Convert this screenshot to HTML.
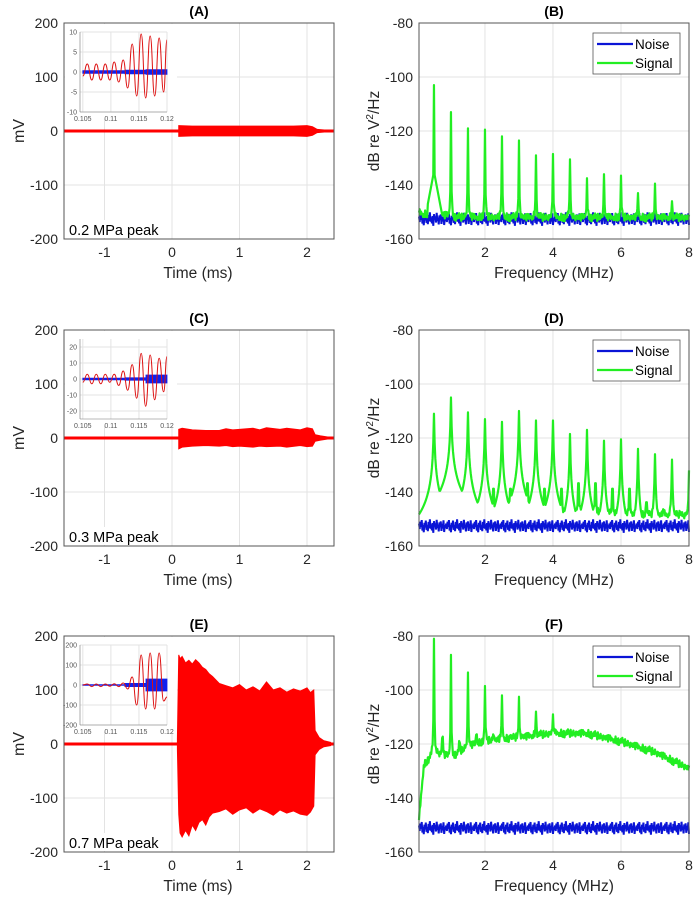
<!DOCTYPE html>
<html><head><meta charset="utf-8"><style>
html,body{margin:0;padding:0;background:#fff;}
svg{display:block;font-family:"Liberation Sans",Arial,sans-serif;}
</style></head><body>
<svg id="fig" width="700" height="905" viewBox="0 0 700 905" xmlns="http://www.w3.org/2000/svg"></svg>
<script>
// ---------- DATA ----------
var timeTicks = [-1, 0, 1, 2];
var mvTicks = [200, 100, 0, -100, -200];
var freqTicks = [2, 4, 6, 8];
var dbTicks = [-80, -100, -120, -140, -160];
var titles = ["(A)", "(B)", "(C)", "(D)", "(E)", "(F)"];
var pressureLabels = ["0.2 MPa peak", "0.3 MPa peak", "0.7 MPa peak"];

var envTA = [0.1, 0.3, 0.6, 0.9, 1.2, 1.5, 1.8, 2.0, 2.08, 2.15, 2.25];
var envUA = [10, 9, 9, 9, 9, 9, 9, 10, 8, 3, 2];
var envLA = [-10, -9, -9, -9, -9, -9, -9, -10, -8, -3, -2];

var envTC = [0.1, 0.15, 0.3, 0.5, 0.7, 0.8, 0.9, 1.0, 1.2, 1.3, 1.4, 1.6, 1.7, 1.9, 2.0, 2.08, 2.12, 2.2, 2.3];
var envUC = [16, 18, 15, 14, 14, 17, 15, 16, 18, 15, 19, 16, 18, 15, 19, 17, 6, 4, 2];
var envLC = [-20, -17, -15, -14, -15, -14, -16, -15, -17, -15, -16, -15, -17, -14, -16, -15, -6, -4, -2];

var envTE = [0.08, 0.1, 0.12, 0.15, 0.2, 0.25, 0.3, 0.35, 0.4, 0.45, 0.5, 0.55, 0.6, 0.7, 0.8, 0.9, 1.0, 1.1, 1.2, 1.3, 1.4, 1.5, 1.6, 1.7, 1.8, 1.9, 2.0, 2.05, 2.1, 2.12, 2.18, 2.25, 2.35];
var envUE = [10, 165, 158, 162, 150, 155, 148, 156, 150, 142, 138, 130, 125, 112, 108, 104, 110, 100, 106, 98, 115, 100, 104, 96, 102, 98, 104, 95, 100, 25, 12, 6, 3];
var envLE = [-10, -130, -165, -172, -160, -170, -150, -160, -145, -140, -150, -135, -128, -125, -120, -130, -122, -118, -128, -120, -125, -132, -122, -128, -124, -130, -132, -126, -115, -20, -10, -5, -3];

var insTA = [0.105, 0.1058, 0.1066, 0.1074, 0.1082, 0.109, 0.1098, 0.1106, 0.1114, 0.1122, 0.113, 0.1138, 0.1146, 0.1154, 0.1162, 0.117, 0.1178, 0.1186, 0.1194, 0.12];
var insRA = [-1, 2, -2, 2, -2, 2, -2, 2.5, -2.5, 3, -4, 7, -6, 9.5, -6.5, 9, -6, 8.5, -5, 8];
var insTC = [0.105, 0.1058, 0.1066, 0.1074, 0.1082, 0.109, 0.1098, 0.1106, 0.1114, 0.1122, 0.113, 0.1138, 0.1146, 0.1154, 0.1162, 0.117, 0.1178, 0.1186, 0.1194, 0.12];
var insRC = [-2, 3, -3, 3, -3, 3, -2, 3, -4, 5, -7, 9, -12, 16, -17, 15, -13, 13, -8, 14];
var insTE = [0.105, 0.1058, 0.1066, 0.1074, 0.1082, 0.109, 0.1098, 0.1106, 0.1114, 0.1122, 0.113, 0.1138, 0.1146, 0.1154, 0.1162, 0.117, 0.1178, 0.1186, 0.1194, 0.12];
var insRE = [0, 5, -8, 5, -8, 5, -6, 6, -8, 10, -20, 40, -100, 150, -120, 160, -120, 160, -80, -60];
var insBlueA = [0.35, 0.35, 0.45, 0.6];
var insBlueC = [0.5, 0.5, 0.8, 2.5];
var insBlueE = [2, 2, 8, 30];

var noiseJitter = [0.8, -1.2, 1.5, -0.4, 2.1, -1.8, 0.3, -2.4, 1.1, -0.6, 1.9, -1.5, 0.2, -2.0, 1.4, -0.9, 2.4, -1.1, 0.5, -1.7, 1.0, -2.6, 1.7, -0.3, 0.9, -1.4, 2.2, -0.8, 0.4, -2.1, 1.2, -0.5, 1.6, -1.9, 0.7, -1.0, 2.0, -2.3, 0.1, -0.7];
var noiseLevel = [-152.5, -152.5, -151];
var baseF = [0.06, 0.2, 0.5, 1, 1.5, 2, 3, 4, 5, 6, 7, 8];
var baseB = [-150, -151, -150, -152, -152, -152, -152, -152, -152, -152, -152, -152];
var baseD = [-152, -151, -150, -150, -149, -149, -149, -148, -148, -149, -149, -149];
var baseF2 = [-148, -128, -123, -125, -121, -119, -117.5, -116, -116, -119, -123, -129];
var peakFB = [0.5, 1, 1.5, 2, 2.5, 3, 3.5, 4, 4.5, 5, 5.5, 6, 6.5, 7, 7.5];
var peakVB = [-103, -113, -119, -119.5, -122, -123.5, -129, -128.5, -130.5, -137.5, -136, -136.5, -143, -139.5, -146];
var peakFD = [0.5, 1, 1.25, 1.5, 1.75, 2, 2.25, 2.5, 2.75, 3, 3.25, 3.5, 3.75, 4, 4.25, 4.5, 4.75, 5, 5.25, 5.5, 5.75, 6, 6.25, 6.5, 6.75, 7, 7.25, 7.5, 7.75, 8];
var peakVD = [-111, -105, -141, -110.5, -138, -113, -133, -114, -133, -110, -131, -113.5, -133, -113.5, -133, -118.5, -131, -117, -131, -121, -133, -120.5, -133, -124, -138, -126, -141, -128, -143, -132];
var peakFF = [0.5, 0.75, 1, 1.25, 1.5, 1.75, 2, 2.25, 2.5, 2.75, 3, 3.5, 4];
var peakVF = [-81, -113, -87, -117, -93.5, -114, -98.5, -115, -102, -116, -102.5, -108, -109];

// ---------- DRAWING ----------
var NS = "http://www.w3.org/2000/svg";
var svg = document.getElementById("fig");
function mk(tag, attrs, parent) {
  var e = document.createElementNS(NS, tag);
  for (var k in attrs) e.setAttribute(k, attrs[k]);
  (parent || svg).appendChild(e);
  return e;
}
function interp(xs, ys, x) {
  if (x <= xs[0]) return ys[0];
  for (var i = 1; i < xs.length; i++) if (x <= xs[i]) {
    var t = (x - xs[i-1]) / (xs[i] - xs[i-1]); return ys[i-1] + t * (ys[i] - ys[i-1]);
  }
  return ys[ys.length - 1];
}
var rowTop = [23, 330, 636];
var H = 216;

function frame(g, L, T, W, Hh, xmin, xmax, ymin, ymax, xt, yt, gridName) {
  var sx = function (v) { return L + (v - xmin) / (xmax - xmin) * W; };
  var sy = function (v) { return T + (ymax - v) / (ymax - ymin) * Hh; };
  var grid = mk("g", {}, g);
  
  
  xt.forEach(function (v) { mk("line", {x1: sx(v), x2: sx(v), y1: T, y2: T + Hh, stroke: "#e3e3e3", "stroke-width": 1}, grid); });
  yt.forEach(function (v) { mk("line", {x1: L, x2: L + W, y1: sy(v), y2: sy(v), stroke: "#e3e3e3", "stroke-width": 1}, grid); });
  return {sx: sx, sy: sy};
}
function box(g, L, T, W, Hh) {
  var b = mk("rect", {x: L, y: T, width: W, height: Hh, fill: "none", stroke: "#555", "stroke-width": 1}, g);
  
  
}
function txt(g, x, y, s, attrs, name) {
  var t = mk("text", Object.assign({x: x, y: y, fill: "#262626"}, attrs), g);
  t.textContent = s;
  
  
  return t;
}
function smoothPath(px, py) {
  var d = "M" + px[0] + "," + py[0];
  for (var i = 1; i < px.length; i++) {
    var mx = (px[i-1] + px[i]) / 2;
    d += " C" + mx + "," + py[i-1] + " " + mx + "," + py[i] + " " + px[i] + "," + py[i];
  }
  return d;
}

var envs = [[envTA, envUA, envLA], [envTC, envUC, envLC], [envTE, envUE, envLE]];
var insets = [[insTA, insRA, insBlueA, 10, [10, 5, 0, -5, -10]], [insTC, insRC, insBlueC, 25, [20, 10, 0, -10, -20]], [insTE, insRE, insBlueE, 200, [200, 100, 0, -100, -200]]];
var specs = [[baseB, peakFB, peakVB], [baseD, peakFD, peakVD], [baseF2, peakFF, peakVF]];

for (var r = 0; r < 3; r++) {
  var T = rowTop[r];
  var g = mk("g", {});
  
  
  var L = 64, W = 270;
  var a = frame(g, L, T, W, H, -1.6, 2.4, -200, 200, timeTicks, mvTicks, 'time-grid');
  var ev = envs[r];
  var trace = mk("g", {}, g);
  
  
  mk("line", {x1: a.sx(-1.6), x2: a.sx(2.4), y1: a.sy(0), y2: a.sy(0), stroke: "#ff0000", "stroke-width": 3}, trace);
  var pts = [];
  for (var i = 0; i < ev[0].length; i++) pts.push(a.sx(ev[0][i]) + "," + a.sy(ev[1][i]));
  for (var i = ev[0].length - 1; i >= 0; i--) pts.push(a.sx(ev[0][i]) + "," + a.sy(ev[2][i]));
  mk("polygon", {points: pts.join(" "), fill: "#ff0000", stroke: "#ff0000", "stroke-width": 1}, trace);
  box(g, L, T, W, H);
  var ins = insets[r];
  var ig = mk("g", {}, g);
  
  
  mk("rect", {x: L + 1, y: T + 1, width: 112, height: 95, fill: "#fff"}, ig);
  var iL = 80, iT = T + 9, iW = 87, iH = 80;
  var ia = frame(ig, iL, iT, iW, iH, 0.1045, 0.12, -ins[3], ins[3], [0.105, 0.11, 0.115, 0.12], ins[4], 'inset-grid');
  mk("line", {x1: iL, x2: iL, y1: iT, y2: iT + iH, stroke: "#777", "stroke-width": 0.6}, ig);
  mk("line", {x1: iL, x2: iL + iW, y1: iT + iH, y2: iT + iH, stroke: "#777", "stroke-width": 0.6}, ig);
  ins[4].forEach(function (v) { txt(ig, iL - 3, ia.sy(v) + 2.5, String(v), {"font-size": 7, "text-anchor": "end", fill: "#555"}, 'inset-y-tick'); });
  [0.105, 0.11, 0.115, 0.12].forEach(function (v) { txt(ig, ia.sx(v), iT + iH + 9, String(v), {"font-size": 7, "text-anchor": "middle", fill: "#555"}, 'inset-x-tick'); });
  var bq = ins[2], bp = [];
  for (var q = 0; q < 4; q++) { var t0 = 0.105 + q * 0.00375; bp.push(ia.sx(t0) + "," + ia.sy(bq[q])); bp.push(ia.sx(t0 + 0.00375) + "," + ia.sy(bq[q])); }
  for (var q = 3; q >= 0; q--) { var t0 = 0.105 + q * 0.00375; bp.push(ia.sx(t0 + 0.00375) + "," + ia.sy(-bq[q])); bp.push(ia.sx(t0) + "," + ia.sy(-bq[q])); }
  var bl = mk("polygon", {points: bp.join(" "), fill: "#1020ee", stroke: "#1020ee", "stroke-width": 0.8}, ig);
  
  
  var rx = [], ry = [];
  for (var i = 0; i < ins[0].length; i++) { rx.push(ia.sx(ins[0][i])); ry.push(ia.sy(ins[1][i])); }
  var rl = mk("path", {d: smoothPath(rx, ry), fill: "none", stroke: "#dd1111", "stroke-width": 1}, ig);
  
  
  mvTicks.forEach(function (v) { txt(g, 58, a.sy(v) + 5, String(v), {"font-size": 14, "text-anchor": "end"}, 'y-tick-label'); });
  timeTicks.forEach(function (v) { txt(g, a.sx(v), T + H + 18, String(v), {"font-size": 14, "text-anchor": "middle"}, 'x-tick-label'); });
  txt(g, 198, T + H + 39, "Time (ms)", {"font-size": 15.5, "text-anchor": "middle"}, 'x-axis-title');
  txt(g, 19, T + H / 2, "mV", {"font-size": 16, "text-anchor": "middle", transform: "rotate(-90 19 " + (T + H / 2) + ")", dy: 5}, 'y-axis-title');
  txt(g, 199, T - 7, titles[2*r], {"font-size": 14, "font-weight": "bold", "text-anchor": "middle", fill: "#000"}, 'panel-title');
  mk("rect", {x: L + 1, y: T + H - 19, width: 104, height: 18, fill: "#fff"}, g);
  txt(g, 69, T + H - 4, pressureLabels[r], {"font-size": 14.5, fill: "#000"}, 'pressure-label');

  var g2 = mk("g", {});
  
  
  var L2 = 419, W2 = 270;
  var b = frame(g2, L2, T, W2, H, 0.06, 8, -160, -80, freqTicks, dbTicks, 'spectrum-grid');
  var sp = specs[r];
  var npts = [], spts = [], k = 0;
  for (var f = 0.06; f <= 8.0001; f += 0.02, k++) {
    var j = noiseJitter[k % noiseJitter.length];
    var n = noiseLevel[r] + j * 1.0;
    npts.push(b.sx(f) + "," + b.sy(n));
    var base = interp(baseF, sp[0], f) + noiseJitter[(k * 7 + 3) % noiseJitter.length] * 0.6;
    var v = base;
    for (var p = 0; p < sp[1].length; p++) {
      var d = f - sp[1][p];
      var h = sp[2][p] - base;
      var pk;
      if (r === 1) {
        var pk2 = sp[2][p] - 10 * Math.log10(1 + (d / 0.006) * (d / 0.006));
        pk = Math.max(pk2, base + (h * 0.22) / (1 + (d / 0.05) * (d / 0.05)));
      } else {
        pk = base + h / (1 + (d / 0.012) * (d / 0.012));
      }
      if (pk > v) v = pk;
    }
    if (r === 0 && f < 0.8) { var bump = -135 - 10 * Math.abs(f - 0.5) / 0.15; if (f > 0.3 && bump > v) v = bump; }
    spts.push(b.sx(f) + "," + b.sy(v));
  }
  var nl = mk("polyline", {points: npts.join(" "), fill: "none", stroke: "#0a14d6", "stroke-width": 2}, g2);
  
  
  var sl = mk("polyline", {points: spts.join(" "), fill: "none", stroke: "#22ee22", "stroke-width": 2.2, "stroke-linejoin": "round"}, g2);
  
  
  box(g2, L2, T, W2, H);
  dbTicks.forEach(function (v) { txt(g2, 413, b.sy(v) + 5, String(v), {"font-size": 14, "text-anchor": "end"}, 'y-tick-label'); });
  freqTicks.forEach(function (v) { txt(g2, b.sx(v), T + H + 18, String(v), {"font-size": 14, "text-anchor": "middle"}, 'x-tick-label'); });
  txt(g2, 554, T + H + 39, "Frequency (MHz)", {"font-size": 15.5, "text-anchor": "middle"}, 'x-axis-title');
  var yt = txt(g2, 374, T + H / 2, "", {"font-size": 15.5, "text-anchor": "middle", transform: "rotate(-90 374 " + (T + H / 2) + ")", dy: 5}, 'y-axis-title');
  yt.innerHTML = 'dB re V<tspan dy="-6" font-size="10">2</tspan><tspan dy="6">/Hz</tspan>';
  txt(g2, 554, T - 7, titles[2*r+1], {"font-size": 14, "font-weight": "bold", "text-anchor": "middle", fill: "#000"}, 'panel-title');
  var lg = mk("g", {}, g2);
  
  
  mk("rect", {x: 593, y: T + 10, width: 87, height: 41, fill: "#fff", stroke: "#555", "stroke-width": 0.8}, lg);
  mk("line", {x1: 597, x2: 633, y1: T + 21, y2: T + 21, stroke: "#0a14d6", "stroke-width": 2.2}, lg);
  mk("line", {x1: 597, x2: 633, y1: T + 40, y2: T + 40, stroke: "#22ee22", "stroke-width": 2.2}, lg);
  txt(lg, 635, T + 26, "Noise", {"font-size": 13.5, fill: "#000"}, 'legend-entry-noise');
  txt(lg, 635, T + 45, "Signal", {"font-size": 13.5, fill: "#000"}, 'legend-entry-signal');
}
</script>
</body></html>
